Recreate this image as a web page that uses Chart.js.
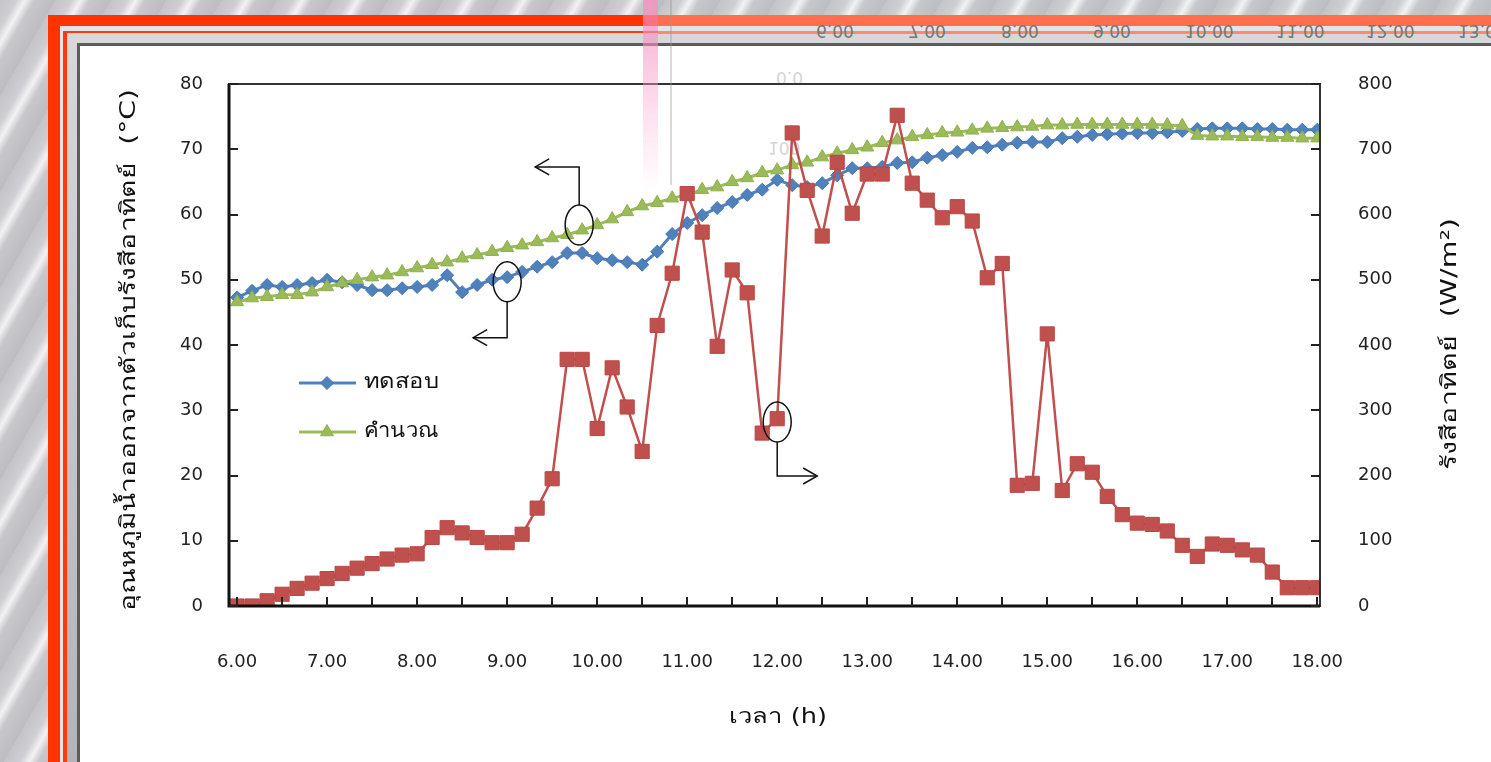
<!DOCTYPE html>
<html>
<head>
<meta charset="utf-8">
<script src="https://cdn.jsdelivr.net/npm/chart.js@4.4.1/dist/chart.umd.min.js"></script>
<style>
  html, body { margin: 0; padding: 0; }
  body {
    width: 1491px; height: 762px; position: relative; overflow: hidden;
    background: repeating-linear-gradient(120deg, #c4c4c8 0px, #cfcfd3 14px, #f2f2f4 22px, #c8c8cc 30px, #bdbdc1 48px);
  }
  .layer { position: absolute; right: 0; bottom: 0; }
  #f1 { left: 48px; top: 15px; background: #ff3300; }
  #f2 { left: 60px; top: 26px; background: #e4e4e6; }
  #f3 { left: 63px; top: 31px; background: #ff3a0a; }
  #f4 { left: 67px; top: 33px; background: linear-gradient(180deg, #d8d8da, #b4b4b8); }
  #f5 { left: 77px; top: 43px; background: #5c5c5c; }
  #f6 { left: 80px; top: 46px; background: #ffffff; }
  #lightTop { position: absolute; left: 658px; right: 0; top: 15px; height: 11px; background: #ff6f4e; }
  #lightLine { position: absolute; left: 658px; right: 0; top: 31px; height: 3px; background: #ff8a6c; }
  #pink { position: absolute; left: 643px; top: 0; width: 15px; height: 190px;
          background: linear-gradient(180deg, rgba(250,140,190,0.75), rgba(250,170,210,0.35) 60%, rgba(255,200,225,0)); }
  #ghostLine { position: absolute; left: 670px; top: 0; width: 2px; height: 185px; background: rgba(150,150,150,0.35); }
  .flip { position: absolute; transform: scaleY(-1); font: 17px "DejaVu Sans", sans-serif; color: #777; white-space: nowrap; }
  .faint { color: #d6d6d6; }
  canvas { position: absolute; left: 0; top: 0; }
</style>
</head>
<body>
<div class="layer" id="f1"></div>
<div class="layer" id="f2"></div>
<div class="layer" id="f3"></div>
<div class="layer" id="f4"></div>
<div class="layer" id="f5"></div>
<div class="layer" id="f6"></div>
<div id="lightTop"></div>
<div id="lightLine"></div>
<div id="ghostLabels"></div>
<canvas id="chart" width="1491" height="762"></canvas>
<div id="ghostLine"></div>
<div id="pink"></div>

<script>
// time of each reading (every 10 minutes)
const times = [
  '6:00','6:10','6:20','6:30','6:40','6:50','7:00','7:10','7:20','7:30','7:40','7:50',
  '8:00','8:10','8:20','8:30','8:40','8:50','9:00','9:10','9:20','9:30','9:40','9:50',
  '10:00','10:10','10:20','10:30','10:40','10:50','11:00','11:10','11:20','11:30','11:40','11:50',
  '12:00','12:10','12:20','12:30','12:40','12:50','13:00','13:10','13:20','13:30','13:40','13:50',
  '14:00','14:10','14:20','14:30','14:40','14:50','15:00','15:10','15:20','15:30','15:40','15:50',
  '16:00','16:10','16:20','16:30','16:40','16:50','17:00','17:10','17:20','17:30','17:40','17:50',
  '18:00'
];

// outlet water temperature, measured (°C)
const tested = [
  47.3, 48.3, 49.2, 48.9, 49.2, 49.5, 50.0, 49.6, 49.2, 48.4, 48.4, 48.7,
  48.9, 49.2, 50.7, 48.1, 49.2, 50.0, 50.4, 51.2, 52.0, 52.7, 54.1, 54.1,
  53.3, 53.0, 52.7, 52.3, 54.3, 57.0, 58.7, 59.9, 61.0, 61.9, 63.0, 63.8,
  65.3, 64.5, 64.2, 64.8, 66.0, 67.1, 67.1, 67.3, 67.9, 68.0, 68.7, 69.1,
  69.6, 70.2, 70.3, 70.7, 71.0, 71.1, 71.1, 71.7, 71.9, 72.2, 72.3, 72.4,
  72.5, 72.5, 72.6, 72.8, 73.1, 73.2, 73.2, 73.2, 73.1, 73.1, 73.0, 73.0,
  73.0
];

// outlet water temperature, calculated (°C)
const calculated = [
  46.6, 47.2, 47.4, 47.7, 47.7, 48.1, 48.9, 49.5, 50.0, 50.4, 50.7, 51.2,
  51.8, 52.3, 52.7, 53.3, 53.8, 54.3, 54.9, 55.3, 55.8, 56.4, 56.9, 57.6,
  58.4, 59.3, 60.4, 61.3, 61.8, 62.5, 63.0, 63.8, 64.2, 65.0, 65.6, 66.4,
  66.8, 67.6, 68.0, 68.8, 69.4, 69.9, 70.3, 71.0, 71.4, 71.9, 72.2, 72.5,
  72.6, 72.9, 73.2, 73.3, 73.4, 73.5, 73.7, 73.7, 73.8, 73.8, 73.8, 73.8,
  73.8, 73.8, 73.7, 73.6, 72.1, 72.0, 72.0, 71.9, 71.9, 71.8, 71.8, 71.7,
  71.7
];

// solar radiation (W/m2)
const radiation = [
  0, 0, 8, 18, 27, 35, 42, 50, 58, 65, 72, 78,
  80, 105, 120, 112, 105, 97, 97, 110, 150, 195, 378, 378,
  272, 365, 305, 237, 430, 510, 632, 573, 398, 515, 480, 265,
  287, 725, 637, 567, 680, 602, 662, 662, 752, 648, 622, 595,
  612, 590, 503, 525, 185, 188, 417, 177, 218, 205, 168, 140,
  127, 125, 115, 93, 76, 95, 93, 86, 78, 52, 28, 28,
  28
];

const hourLabels = ['6.00','7.00','8.00','9.00','10.00','11.00','12.00','13.00','14.00','15.00','16.00','17.00','18.00'];
const seriesNames = ['ทดสอบ', 'คำนวณ'];
const leftTitle = 'อุณหภูมิน้ำออกจากตัวเก็บรังสีอาทิตย์  (°C)';
const rightTitle = 'รังสีอาทิตย์  (W/m²)';
const xTitle = 'เวลา (h)';

// circled points with their arrows: which axis they belong to
const callouts = [
  { x: 9.8, y: 58.4, axis: 'y', dir: 'upLeft' },
  { x: 9.0, y: 49.7, axis: 'y', dir: 'downLeft' },
  { x: 12.0, y: 282, axis: 'y1', dir: 'downRight' }
];

const FONT = '"DejaVu Sans", Tahoma, "Noto Sans", sans-serif';
const BLUE = '#4F81BD', GREEN = '#9BBB59', RED = '#C0504D';

function toHours(t) {
  const [h, m] = t.split(':').map(Number);
  return h + m / 60;
}
const pts = arr => arr.map((v, i) => ({ x: toHours(times[i]), y: v }));

// ghost, upside-down labels from the picture behind
(function () {
  const holder = document.getElementById('ghostLabels');
  const xs = [838, 930, 1023, 1115, 1207, 1298, 1388, 1480];
  xs.forEach((cx, i) => {
    const d = document.createElement('div');
    d.className = 'flip';
    d.textContent = hourLabels[i];
    d.style.left = (cx - 22) + 'px';
    d.style.top = '21px';
    holder.appendChild(d);
  });
  [['0.0', 776, 68], ['100', 768, 138]].forEach(([t, l, tp]) => {
    const d = document.createElement('div');
    d.className = 'flip faint';
    d.textContent = t;
    d.style.left = l + 'px';
    d.style.top = tp + 'px';
    holder.appendChild(d);
  });
})();

function arrowHead(ctx, x, y, dx) {
  ctx.beginPath();
  ctx.moveTo(x + dx * 14, y - 8);
  ctx.lineTo(x, y);
  ctx.lineTo(x + dx * 14, y + 8);
  ctx.stroke();
}

// text stretched along its baseline to the width it has in the picture
function wideText(ctx, text, x, y, width, rotate) {
  ctx.save();
  ctx.translate(x, y);
  if (rotate) ctx.rotate(-Math.PI / 2);
  const w = ctx.measureText(text).width;
  ctx.scale(width / w, 1);
  ctx.fillText(text, 0, 0);
  ctx.restore();
}

const decorations = {
  id: 'decorations',
  afterDatasetsDraw(chart) {
    const { ctx, chartArea: a, scales } = chart;
    ctx.save();

    // plot box
    ctx.strokeStyle = '#333';
    ctx.lineWidth = 2;
    ctx.strokeRect(a.left, a.top, a.width, a.height);
    ctx.strokeStyle = '#111';
    ctx.lineWidth = 3;
    ctx.beginPath();
    ctx.moveTo(a.left, a.top);
    ctx.lineTo(a.left, a.bottom);
    ctx.lineTo(a.right, a.bottom);
    ctx.stroke();

    // inside tick marks
    ctx.lineWidth = 2;
    ctx.strokeStyle = '#222';
    ctx.beginPath();
    scales.x.ticks.forEach(t => {
      const px = Math.round(scales.x.getPixelForValue(t.value));
      ctx.moveTo(px, a.bottom);
      ctx.lineTo(px, a.bottom - 9);
    });
    scales.y.ticks.forEach(t => {
      const py = Math.round(scales.y.getPixelForValue(t.value));
      ctx.moveTo(a.left, py);
      ctx.lineTo(a.left + 9, py);
    });
    scales.y1.ticks.forEach(t => {
      const py = Math.round(scales.y1.getPixelForValue(t.value));
      ctx.moveTo(a.right, py);
      ctx.lineTo(a.right - 9, py);
    });
    ctx.stroke();

    // callouts
    ctx.strokeStyle = '#111';
    ctx.lineWidth = 1.5;
    callouts.forEach(c => {
      const cx = scales.x.getPixelForValue(c.x);
      const cy = scales[c.axis].getPixelForValue(c.y);
      const rx = 14, ry = 20;
      ctx.beginPath();
      ctx.ellipse(cx, cy, rx, ry, 0, 0, Math.PI * 2);
      ctx.stroke();
      ctx.beginPath();
      if (c.dir === 'upLeft') {
        ctx.moveTo(cx, cy - ry);
        ctx.lineTo(cx, cy - ry - 38);
        ctx.lineTo(cx - 44, cy - ry - 38);
        ctx.stroke();
        arrowHead(ctx, cx - 44, cy - ry - 38, 1);
      } else if (c.dir === 'downLeft') {
        ctx.moveTo(cx, cy + ry);
        ctx.lineTo(cx, cy + ry + 36);
        ctx.lineTo(cx - 34, cy + ry + 36);
        ctx.stroke();
        arrowHead(ctx, cx - 34, cy + ry + 36, 1);
      } else {
        ctx.moveTo(cx, cy + ry);
        ctx.lineTo(cx, cy + ry + 34);
        ctx.lineTo(cx + 40, cy + ry + 34);
        ctx.stroke();
        arrowHead(ctx, cx + 40, cy + ry + 34, -1);
      }
    });

    // legend inside the plot
    const legendRows = [
      { ds: chart.data.datasets[2], y: 383 },
      { ds: chart.data.datasets[1], y: 432 }
    ];
    legendRows.forEach((r, i) => {
      ctx.strokeStyle = r.ds.borderColor;
      ctx.lineWidth = 3;
      ctx.beginPath();
      ctx.moveTo(299, r.y);
      ctx.lineTo(356, r.y);
      ctx.stroke();
      ctx.fillStyle = r.ds.pointBackgroundColor;
      ctx.strokeStyle = r.ds.pointBorderColor;
      ctx.lineWidth = 1;
      Chart.helpers.drawPoint(ctx, { pointStyle: r.ds.pointStyle, radius: r.ds.pointRadius, borderWidth: 1, rotation: 0 }, 327, r.y);
      ctx.fillStyle = '#111';
      ctx.font = '20px ' + FONT;
      ctx.textAlign = 'left';
      ctx.textBaseline = 'middle';
      wideText(ctx, seriesNames[i], 364, r.y, 75, false);
    });

    // axis titles
    ctx.fillStyle = '#111';
    ctx.font = '21px ' + FONT;
    ctx.textAlign = 'center';
    ctx.textBaseline = 'middle';
    wideText(ctx, leftTitle, 130, 350, 522, true);
    wideText(ctx, rightTitle, 1451, 344, 252, true);
    wideText(ctx, xTitle, 778, 718, 98, false);

    ctx.restore();
  }
};

const tickFont = { family: FONT, size: 18 };

new Chart(document.getElementById('chart'), {
  type: 'line',
  data: {
    datasets: [
      {
        label: 'รังสีอาทิตย์',
        data: pts(radiation),
        yAxisID: 'y1',
        borderColor: RED,
        borderWidth: 2.5,
        pointStyle: 'rect',
        pointRadius: 10,
        pointBackgroundColor: RED,
        pointBorderColor: '#b84744',
        pointBorderWidth: 1,
        tension: 0
      },
      {
        label: seriesNames[1],
        data: pts(calculated),
        yAxisID: 'y',
        borderColor: GREEN,
        borderWidth: 3,
        pointStyle: 'triangle',
        pointRadius: 7.5,
        pointBackgroundColor: GREEN,
        pointBorderColor: '#8fb04f',
        pointBorderWidth: 1,
        tension: 0
      },
      {
        label: seriesNames[0],
        data: pts(tested),
        yAxisID: 'y',
        borderColor: BLUE,
        borderWidth: 3,
        pointStyle: 'rectRot',
        pointRadius: 6.5,
        pointBackgroundColor: BLUE,
        pointBorderColor: '#4676b0',
        pointBorderWidth: 1,
        tension: 0
      }
    ]
  },
  options: {
    responsive: false,
    animation: false,
    events: [],
    layout: { padding: { top: 84, left: 0, right: 0, bottom: 0 } },
    plugins: { legend: { display: false }, tooltip: { enabled: false } },
    scales: {
      x: {
        type: 'linear',
        position: 'bottom',
        min: 5.91,
        max: 18.03,
        afterFit(s) { s.height = 156; },
        grid: { display: false, drawTicks: false },
        border: { display: false },
        ticks: {
          stepSize: 0.5,
          includeBounds: false,
          autoSkip: false,
          maxRotation: 0,
          padding: 46,
          color: '#222',
          font: tickFont,
          callback: v => Number.isInteger(v) ? hourLabels[v - 6] : ''
        }
      },
      y: {
        position: 'left',
        min: 0,
        max: 80,
        afterFit(s) { s.width = 229; },
        grid: { display: false, drawTicks: false },
        border: { display: false },
        ticks: { stepSize: 10, padding: 26, color: '#222', font: tickFont }
      },
      y1: {
        position: 'right',
        min: 0,
        max: 800,
        afterFit(s) { s.width = 171; },
        grid: { display: false, drawTicks: false },
        border: { display: false },
        ticks: { stepSize: 100, padding: 38, color: '#222', font: tickFont }
      }
    }
  },
  plugins: [decorations]
});
</script>
</body>
</html>
